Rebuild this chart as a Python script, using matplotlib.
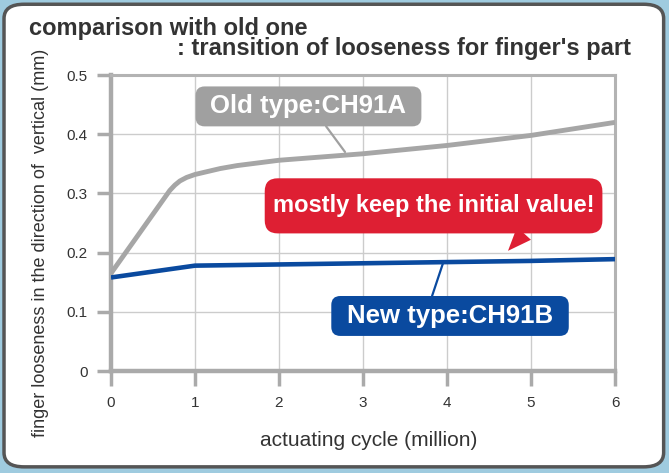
import matplotlib
matplotlib.use("Agg")
import matplotlib.pyplot as plt
from matplotlib.patches import FancyBboxPatch, BoxStyle

# data
old_x = [0, 0.4, 0.7, 0.76, 0.82, 0.9, 1, 1.3, 1.5, 2, 3, 4, 5, 6]
old_y = [0.165, 0.245, 0.305, 0.314, 0.321, 0.327, 0.332, 0.342, 0.347, 0.356, 0.367, 0.381, 0.398, 0.420]
new_x = [0, 0.5, 1, 2, 3, 4, 5, 6]
new_y = [0.158, 0.168, 0.178, 0.180, 0.182, 0.184, 0.186, 0.189]
x_ticks = [0, 1, 2, 3, 4, 5, 6]
y_ticks = [0, 0.1, 0.2, 0.3, 0.4, 0.5]
y_tick_labels = ["0", "0.1", "0.2", "0.3", "0.4", "0.5"]

OLD_COLOR = "#a6a6a6"
NEW_COLOR = "#0a4a9f"
RED = "#de1f33"
TXT = "#333333"

plt.rcParams["font.family"] = ["Liberation Sans", "DejaVu Sans"]


def padded_box(padx, pady, rounding):
    # rounded box with separate horizontal / vertical padding
    def box(x0, y0, width, height, mutation_size):
        px = padx * mutation_size
        py = pady * mutation_size
        return BoxStyle.Round(pad=0, rounding_size=rounding)(
            x0 - px, y0 - py, width + 2 * px, height + 2 * py, mutation_size)
    return box


fig = plt.figure(figsize=(6.69, 4.73), dpi=100)
fig.patch.set_facecolor("#9fcbdf")

# white rounded panel behind everything
panel = FancyBboxPatch((0.006, 0.013), 0.986, 0.978,
                       boxstyle="round,pad=0,rounding_size=0.03",
                       transform=fig.transFigure, facecolor="white",
                       edgecolor="#555555", linewidth=2.5, zorder=-1)
fig.patches.append(panel)

ax = fig.add_axes([0.1659, 0.2156, 0.7534, 0.6258])
ax.set_zorder(2)
ax.set_facecolor("none")

ax.plot(old_x, old_y, color=OLD_COLOR, linewidth=3.5, solid_capstyle="butt",
        solid_joinstyle="round", zorder=3)
ax.plot(new_x, new_y, color=NEW_COLOR, linewidth=3.3, solid_capstyle="butt",
        solid_joinstyle="round", zorder=3)

ax.set_xlim(0, 6)
ax.set_ylim(0, 0.5)
ax.set_xticks(x_ticks)
ax.set_yticks(y_ticks)
ax.set_yticklabels(y_tick_labels)
ax.grid(True, color="#cccccc", linewidth=1)
ax.set_axisbelow(True)
for side in ["left", "bottom"]:
    ax.spines[side].set_color("#aaaaaa")
    ax.spines[side].set_linewidth(3.2)
for side in ["top", "right"]:
    ax.spines[side].set_color("#b3b3b3")
    ax.spines[side].set_linewidth(2.2)
ax.tick_params(axis="y", length=10, width=2.5, color="#aaaaaa", labelsize=11,
               labelcolor=TXT, pad=7)
ax.tick_params(axis="x", length=11, width=2.5, color="#aaaaaa", labelsize=11,
               labelcolor=TXT, pad=7)

# callouts
ax.annotate("Old type:CH91A", xy=(2.786, 0.370), xytext=(2.351, 0.447),
            ha="center", va="center", color="white", fontsize=18.5, fontweight="bold",
            bbox=dict(boxstyle=padded_box(0.58, 0.31, 0.35), fc="#a0a0a0", ec="none"),
            arrowprops=dict(arrowstyle="-", color="#a0a0a0", lw=1.6,
                            relpos=(0.56, 0), shrinkA=0, shrinkB=0),
            zorder=5)
ax.annotate("mostly keep the initial value!", xy=(4.726, 0.203), xytext=(3.84, 0.279),
            ha="center", va="center", color="white", fontsize=17, fontweight="bold",
            bbox=dict(boxstyle=padded_box(0.34, 0.68, 0.55), fc=RED, ec="none"),
            arrowprops=dict(arrowstyle="wedge,tail_width=0.8", color=RED, ec="none",
                            relpos=(0.84, 0.2), shrinkA=0, shrinkB=0),
            zorder=5)
ax.annotate("New type:CH91B", xy=(3.952, 0.182), xytext=(4.036, 0.093),
            ha="center", va="center", color="white", fontsize=18.5, fontweight="bold",
            bbox=dict(boxstyle=padded_box(0.61, 0.31, 0.35), fc=NEW_COLOR, ec="none"),
            arrowprops=dict(arrowstyle="-", color=NEW_COLOR, lw=1.6,
                            relpos=(0.40, 1), shrinkA=0, shrinkB=0),
            zorder=5)

# titles and axis labels
fig.text(0.043, 0.926, "comparison with old one", ha="left", va="baseline",
         fontsize=17, fontweight="bold", color=TXT)
fig.text(0.943, 0.884, ": transition of looseness for finger's part", ha="right",
         va="baseline", fontsize=17, fontweight="bold", color=TXT)
fig.text(0.06, 0.487, "finger looseness in the direction of  vertical (mm)",
         rotation=90, ha="center", va="center", fontsize=13, color=TXT)
fig.text(0.5516, 0.057, "actuating cycle (million)", ha="center", va="baseline",
         fontsize=15, color=TXT)

fig.savefig("out.png", dpi=100, facecolor=fig.get_facecolor())
